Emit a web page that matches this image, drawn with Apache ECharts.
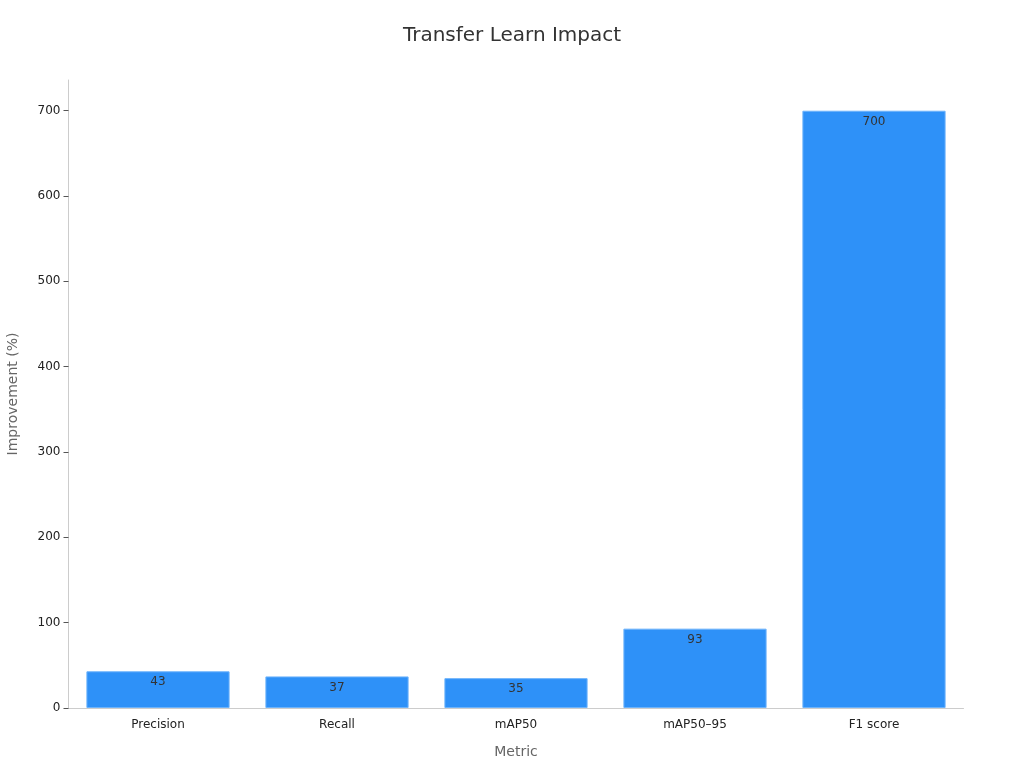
<!DOCTYPE html>
<html><head><meta charset="utf-8">
<script src="https://cdn.jsdelivr.net/npm/echarts@6/dist/echarts.min.js"></script>
<style>html,body{margin:0;padding:0;background:#fff}#c{width:1024px;height:768px}</style>
</head><body><div id="c"></div>
<script>
var categories = ['Precision', 'Recall', 'mAP50', 'mAP50\u201395', 'F1 score'];
var improvement = [43, 37, 35, 93, 700];
var yTicks = [0, 100, 200, 300, 400, 500, 600, 700];

var chart = echarts.init(document.getElementById('c'));
chart.setOption({
  backgroundColor: '#fff',
  textStyle: { fontFamily: 'DejaVu Sans' },
  title: {
    text: 'Transfer Learn Impact', left: 'center', top: 21,
    textStyle: { fontSize: 20, fontWeight: 'normal', color: '#333', fontFamily: 'DejaVu Sans' }
  },
  grid: { left: 68.5, right: 60.5, top: 80, bottom: 60, containLabel: false, outerBoundsMode: 'none' },
  xAxis: {
    type: 'category', data: categories,
    name: 'Metric', nameLocation: 'middle', nameGap: 37,
    nameTextStyle: { fontSize: 14, color: '#666' },
    axisLine: { lineStyle: { color: '#ccc' } },
    axisTick: { alignWithLabel: true, length: 4, lineStyle: { color: '#333' } },
    axisLabel: { fontSize: 12, color: '#222', margin: 11 }
  },
  yAxis: {
    type: 'value', min: 0, max: 736,
    name: 'Improvement (%)', nameLocation: 'middle', nameGap: 48,
    nameTextStyle: { fontSize: 14, color: '#666' },
    splitLine: { show: false },
    axisLine: { show: true, lineStyle: { color: '#ccc' } },
    axisTick: { show: true, length: 5, lineStyle: { color: '#555' }, customValues: yTicks },
    axisLabel: { fontSize: 12, color: '#222', margin: 8, customValues: yTicks }
  },
  series: [{
    type: 'bar', data: improvement, barCategoryGap: '20%',
    itemStyle: { color: '#2E91F8', borderColor: '#6DB3FB', borderWidth: 1 },
    label: { show: true, position: 'insideTop', distance: 5, fontSize: 12, color: '#333' }
  }]
});
</script></body></html>
